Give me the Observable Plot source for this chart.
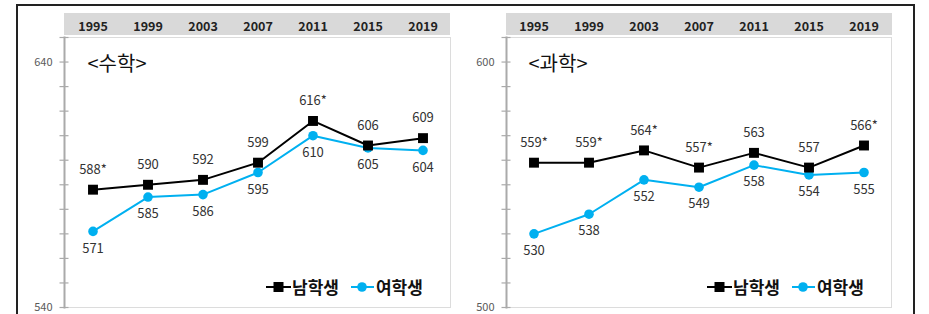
<!DOCTYPE html>
<html>
<head>
<meta charset="utf-8">
<script src="https://cdn.jsdelivr.net/npm/d3@7"></script>
<script src="https://cdn.jsdelivr.net/npm/@observablehq/plot@0.6"></script>
<style>
  body { margin: 0; background: #fff; font-family: "Noto Sans CJK KR", "Noto Sans", sans-serif; }
  #wrap { position: relative; width: 929px; height: 314px; overflow: hidden; }
  .box { position: absolute; left: 16px; top: 4px; width: 899px; height: 330px; border: 2px solid #222; box-sizing: border-box; }
  .band { position: absolute; background: #d9d9d9; }
  .chart { position: absolute; top: 0; }
  .legend { position: absolute; display: flex; align-items: center; font-size: 17px; font-weight: bold; color: #111; white-space: nowrap; }
  .legend svg { display: block; }
  .legend span { margin-right: 12px; }
</style>
</head>
<body>
<div id="wrap">
  <div class="box"></div>
</div>
<script>
// ---- data ----
const years = ["1995", "1999", "2003", "2007", "2011", "2015", "2019"];
const mathMale = [588, 590, 592, 599, 616, 606, 609];
const mathFemale = [571, 585, 586, 595, 610, 605, 604];
const mathMaleLabels = ["588*", "590", "592", "599", "616*", "606", "609"];
const mathFemaleLabels = ["571", "585", "586", "595", "610", "605", "604"];
const sciMale = [559, 559, 564, 557, 563, 557, 566];
const sciFemale = [530, 538, 552, 549, 558, 554, 555];
const sciMaleLabels = ["559*", "559*", "564*", "557*", "563", "557", "566*"];
const sciFemaleLabels = ["530", "538", "552", "549", "558", "554", "555"];
const mathTicks = [540, 550, 560, 570, 580, 590, 600, 610, 620, 630, 640, 650];
const mathTickLabels = [540, 640];
const sciTicks = [500, 510, 520, 530, 540, 550, 560, 570, 580, 590, 600, 610];
const sciTickLabels = [500, 600];
const seriesNames = ["남학생", "여학생"];
const mathTitle = "<수학>";
const sciTitle = "<과학>";

const BLUE = "#00b0f0";
const FONT = "Noto Sans CJK KR, Noto Sans, sans-serif";

function makeChart(cfg) {
  const male = years.map((y, i) => ({year: y, v: cfg.male[i], label: cfg.maleLabels[i]}));
  const female = years.map((y, i) => ({year: y, v: cfg.female[i], label: cfg.femaleLabels[i]}));
  return Plot.plot({
    width: cfg.width,
    height: 314,
    marginLeft: cfg.ml,
    marginRight: cfg.mr,
    marginTop: 37,
    marginBottom: 7,
    style: {fontFamily: FONT, background: "transparent", overflow: "visible"},
    x: {type: "band", domain: years, padding: 0, axis: null, label: null},
    y: {domain: cfg.domain, axis: null, label: null},
    marks: [
      Plot.frame({stroke: "#dcdcdc"}),
      Plot.frame({anchor: "left", stroke: "#aaaaaa", strokeWidth: 2}),
      Plot.axisY({ticks: cfg.ticks, tickSize: 9, dx: 4.5, tickFormat: () => "", label: null, stroke: "#aaaaaa", strokeWidth: 1.2}),
      Plot.axisY({ticks: cfg.tickLabels, tickSize: 0, tickPadding: 12, fontSize: 11, fill: "#595959", label: null, tickFormat: d => String(d)}),
      Plot.axisX({anchor: "top", tickSize: 0, tickPadding: 7, fontSize: 12.5, fontWeight: "bold", fill: "#222", label: null}),
      Plot.text([cfg.title], {frameAnchor: "top-left", dx: cfg.titleDx, dy: 19, fontSize: 20, fill: "#111", textAnchor: "start"}),
      Plot.line(female, {x: "year", y: "v", stroke: BLUE, strokeWidth: 2}),
      Plot.line(male, {x: "year", y: "v", stroke: "#000", strokeWidth: 2}),
      Plot.dot(female, {x: "year", y: "v", r: 4.8, fill: BLUE, stroke: null, symbol: "circle"}),
      Plot.dot(male, {x: "year", y: "v", r: 5.6, fill: "#000", stroke: null, symbol: "square"}),
      Plot.text(male, {x: "year", y: "v", text: "label", dy: -20, fontSize: 13, fill: "#333"}),
      Plot.text(female, {x: "year", y: "v", text: "label", dy: 17, fontSize: 13, fill: "#333"})
    ]
  });
}

function addBand(left, width) {
  const b = document.createElement("div");
  b.className = "band";
  Object.assign(b.style, {left: left + "px", top: "13px", width: width + "px", height: "22px"});
  document.getElementById("wrap").appendChild(b);
}

function addLegend(left) {
  const lg = document.createElement("div");
  lg.className = "legend";
  lg.style.left = left + "px";
  lg.style.top = "274px";
  lg.innerHTML =
    `<svg width="26" height="24"><line x1="0" x2="25" y1="12" y2="12" stroke="#000" stroke-width="2"/><rect x="7.5" y="7" width="10" height="10" fill="#000"/></svg>` +
    `<span>${seriesNames[0]}</span>` +
    `<svg width="24" height="24"><line x1="0" x2="23" y1="12" y2="12" stroke="${BLUE}" stroke-width="2"/><circle cx="11" cy="12" r="4.8" fill="${BLUE}"/></svg>` +
    `<span style="margin-left:1px">${seriesNames[1]}</span>`;
  document.getElementById("wrap").appendChild(lg);
}

addBand(64, 386);
addBand(506, 386);

const c1 = makeChart({width: 460, ml: 64, mr: 10, domain: [540, 650], ticks: mathTicks, tickLabels: mathTickLabels,
  male: mathMale, female: mathFemale, maleLabels: mathMaleLabels, femaleLabels: mathFemaleLabels, title: mathTitle, titleDx: 23});
c1.classList.add("chart");
c1.style.left = "0px";
document.getElementById("wrap").appendChild(c1);

const c2 = makeChart({width: 469, ml: 46, mr: 38, domain: [500, 610], ticks: sciTicks, tickLabels: sciTickLabels,
  male: sciMale, female: sciFemale, maleLabels: sciMaleLabels, femaleLabels: sciFemaleLabels, title: sciTitle, titleDx: 22});
c2.classList.add("chart");
c2.style.left = "460px";
document.getElementById("wrap").appendChild(c2);

addLegend(266);
addLegend(707);
</script>
</body>
</html>
